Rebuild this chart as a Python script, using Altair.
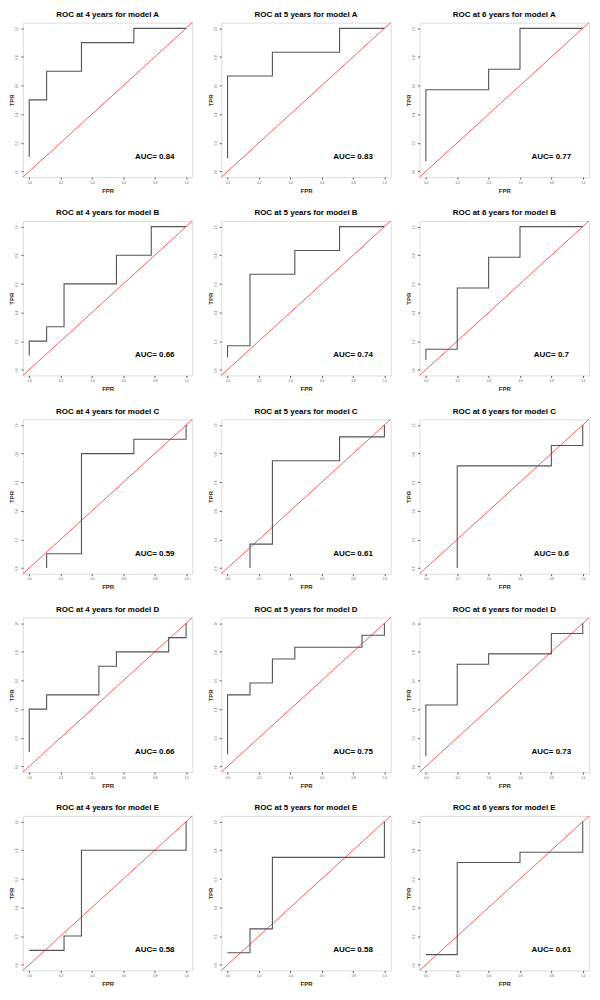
import altair as alt
import pandas as pd

YEARS = ["4", "5", "6"]
MODELS = ["A", "B", "C", "D", "E"]

AUC_A = ["0.84", "0.83", "0.77"]
AUC_B = ["0.66", "0.74", "0.7"]
AUC_C = ["0.59", "0.61", "0.6"]
AUC_D = ["0.66", "0.75", "0.73"]
AUC_E = ["0.58", "0.58", "0.61"]

FPR_A4 = [0, 0, 0.111, 0.111, 0.333, 0.333, 0.667, 0.667, 1.0]
TPR_A4 = [0.10, 0.50, 0.50, 0.70, 0.70, 0.90, 0.90, 1.0, 1.0]
FPR_A5 = [0, 0, 0.286, 0.286, 0.714, 0.714, 1.0]
TPR_A5 = [0.09, 0.667, 0.667, 0.833, 0.833, 1.0, 1.0]
FPR_A6 = [0, 0, 0.4, 0.4, 0.6, 0.6, 1.0]
TPR_A6 = [0.07, 0.571, 0.571, 0.714, 0.714, 1.0, 1.0]

FPR_B4 = [0, 0, 0.111, 0.111, 0.222, 0.222, 0.556, 0.556, 0.778, 0.778, 1.0]
TPR_B4 = [0.10, 0.20, 0.20, 0.30, 0.30, 0.60, 0.60, 0.80, 0.80, 1.0, 1.0]
FPR_B5 = [0, 0, 0.143, 0.143, 0.429, 0.429, 0.714, 0.714, 1.0]
TPR_B5 = [0.085, 0.167, 0.167, 0.667, 0.667, 0.833, 0.833, 1.0, 1.0]
FPR_B6 = [0, 0, 0.2, 0.2, 0.4, 0.4, 0.6, 0.6, 1.0]
TPR_B6 = [0.07, 0.143, 0.143, 0.571, 0.571, 0.786, 0.786, 1.0, 1.0]

FPR_C4 = [0.111, 0.111, 0.333, 0.333, 0.667, 0.667, 1.0, 1.0]
TPR_C4 = [0.0, 0.10, 0.10, 0.80, 0.80, 0.90, 0.90, 1.0]
FPR_C5 = [0.143, 0.143, 0.286, 0.286, 0.714, 0.714, 1.0, 1.0]
TPR_C5 = [0.0, 0.167, 0.167, 0.75, 0.75, 0.917, 0.917, 1.0]
FPR_C6 = [0.2, 0.2, 0.8, 0.8, 1.0, 1.0]
TPR_C6 = [0.0, 0.714, 0.714, 0.857, 0.857, 1.0]

FPR_D4 = [0, 0, 0.111, 0.111, 0.444, 0.444, 0.556, 0.556, 0.889, 0.889, 1.0, 1.0]
TPR_D4 = [0.10, 0.40, 0.40, 0.50, 0.50, 0.70, 0.70, 0.80, 0.80, 0.90, 0.90, 1.0]
FPR_D5 = [0, 0, 0.143, 0.143, 0.286, 0.286, 0.429, 0.429, 0.857, 0.857, 1.0, 1.0]
TPR_D5 = [0.085, 0.50, 0.50, 0.583, 0.583, 0.75, 0.75, 0.833, 0.833, 0.917, 0.917, 1.0]
FPR_D6 = [0, 0, 0.2, 0.2, 0.4, 0.4, 0.8, 0.8, 1.0, 1.0]
TPR_D6 = [0.07, 0.429, 0.429, 0.714, 0.714, 0.786, 0.786, 0.929, 0.929, 1.0]

FPR_E4 = [0, 0.222, 0.222, 0.333, 0.333, 1.0, 1.0]
TPR_E4 = [0.10, 0.10, 0.20, 0.20, 0.80, 0.80, 1.0]
FPR_E5 = [0, 0.143, 0.143, 0.286, 0.286, 1.0, 1.0]
TPR_E5 = [0.083, 0.083, 0.25, 0.25, 0.75, 0.75, 1.0]
FPR_E6 = [0, 0.2, 0.2, 0.6, 0.6, 1.0, 1.0]
TPR_E6 = [0.07, 0.07, 0.714, 0.714, 0.786, 0.786, 1.0]

DIAG = [-0.04, 1.04]
TICKS = [0.0, 0.2, 0.4, 0.6, 0.8, 1.0]
AUC_POS = (0.8, 0.1)

CURVES = {
    ("A", "4"): (FPR_A4, TPR_A4), ("A", "5"): (FPR_A5, TPR_A5), ("A", "6"): (FPR_A6, TPR_A6),
    ("B", "4"): (FPR_B4, TPR_B4), ("B", "5"): (FPR_B5, TPR_B5), ("B", "6"): (FPR_B6, TPR_B6),
    ("C", "4"): (FPR_C4, TPR_C4), ("C", "5"): (FPR_C5, TPR_C5), ("C", "6"): (FPR_C6, TPR_C6),
    ("D", "4"): (FPR_D4, TPR_D4), ("D", "5"): (FPR_D5, TPR_D5), ("D", "6"): (FPR_D6, TPR_D6),
    ("E", "4"): (FPR_E4, TPR_E4), ("E", "5"): (FPR_E5, TPR_E5), ("E", "6"): (FPR_E6, TPR_E6),
}
AUCS = {"A": AUC_A, "B": AUC_B, "C": AUC_C, "D": AUC_D, "E": AUC_E}

LAB_COLOR = "#3a2418"
FONT = "Liberation Sans"

xscale = alt.Scale(domain=DIAG, nice=False, zero=False)
yscale = alt.Scale(domain=DIAG, nice=False, zero=False)
xaxis = alt.Axis(values=TICKS, format=".1f", title="FPR", domain=False, grid=False,
                 tickSize=2, labelPadding=2, labelFontSize=3, labelColor="#555",
                 tickColor="#555", titleFontSize=6, titleFontWeight="bold",
                 titleColor=LAB_COLOR, titlePadding=3, labelFont=FONT, titleFont=FONT)
yaxis = alt.Axis(values=TICKS, format=".1f", title="TPR", domain=False, grid=False,
                 tickSize=2, labelPadding=2, labelFontSize=3, labelColor="#555",
                 tickColor="#555", labelAngle=-90, titleFontSize=6, titleFontWeight="bold",
                 titleColor=LAB_COLOR, titlePadding=1, labelFont=FONT, titleFont=FONT)


def panel(model, year, auc):
    fpr, tpr = CURVES[(model, year)]
    df = pd.DataFrame({"fpr": fpr, "tpr": tpr, "i": list(range(len(fpr)))})
    x = alt.X("fpr:Q", scale=xscale, axis=xaxis)
    y = alt.Y("tpr:Q", scale=yscale, axis=yaxis)
    diag = alt.Chart(pd.DataFrame({"fpr": DIAG, "tpr": DIAG})).mark_line(
        color="#ff3030", strokeWidth=0.8).encode(x=x, y=y)
    curve = alt.Chart(df).mark_line(color="#555555", strokeWidth=1.1).encode(
        x=x, y=y, order="i:Q")
    txt = alt.Chart(pd.DataFrame({"fpr": [AUC_POS[0]], "tpr": [AUC_POS[1]],
                                  "t": [f"AUC= {auc}"]})).mark_text(
        font=FONT, fontSize=8, fontWeight="bold", color="black").encode(x=x, y=y, text="t:N")
    return alt.layer(diag, curve, txt).properties(
        width=170, height=155,
        title=alt.TitleParams(f"ROC at {year} years for model {model}", fontSize=8,
                              fontWeight="bold", font=FONT, color="black", offset=2,
                              anchor="middle"))


panels = [panel(m, yr, AUCS[m][j]) for m in MODELS for j, yr in enumerate(YEARS)]

chart = alt.concat(*panels, columns=3, spacing=alt.RowColnumber(row=44, column=29),
                   bounds="flush", padding=0).configure_view(
    stroke="#606060", strokeWidth=1.1).configure(background="white")

chart.save("out.html", embed_options={"renderer": "svg", "actions": False})
